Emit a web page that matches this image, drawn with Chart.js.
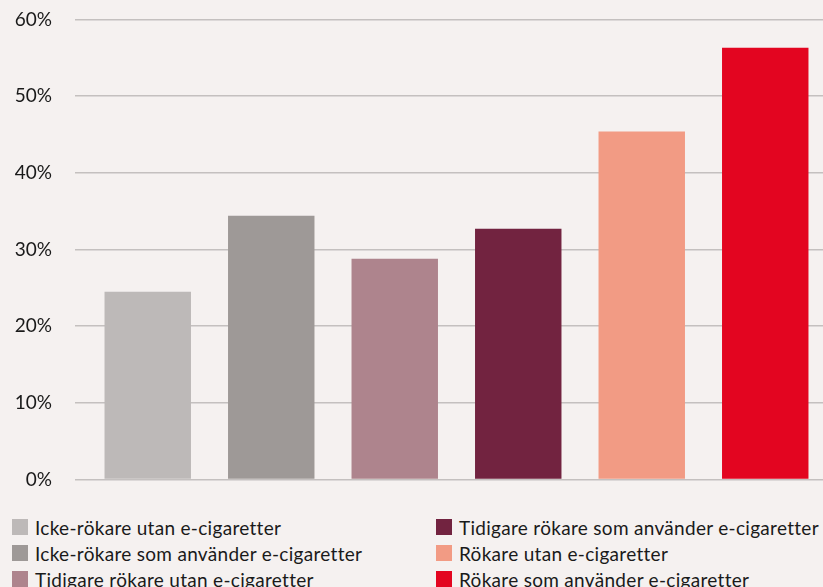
<!DOCTYPE html>
<html>
<head>
<meta charset="utf-8">
<script src="https://cdn.jsdelivr.net/npm/chart.js@4/dist/chart.umd.min.js"></script>
<style>
  html, body { margin: 0; padding: 0; background: #f5f1f0; overflow: hidden; }
  #wrap { position: absolute; left: 0; top: -15.5px; width: 827px; height: 529px; }
  #legend { position: absolute; left: 12px; top: 517px; width: 811px; font-family: "Lato", sans-serif; font-size: 19px; letter-spacing: 0.3px; color: #1a1a1a; }
  .item { position: absolute; white-space: nowrap; height: 20px; display: flex; align-items: center; }
  .box { display: inline-block; width: 16px; height: 16px; margin-right: 7px; flex: none; }
</style>
</head>
<body>
<div id="wrap"><canvas id="myChart" width="827" height="529"></canvas></div>
<div id="legend"></div>
<script>
// categories and values (percent)
var labels = [
    "Icke-rökare utan e-cigaretter",
    "Icke-rökare som använder e-cigaretter",
    "Tidigare rökare utan e-cigaretter",
    "Tidigare rökare som använder e-cigaretter",
    "Rökare utan e-cigaretter",
    "Rökare som använder e-cigaretter"
];
var values = [24.5, 34.4, 28.8, 32.7, 45.4, 56.3];
var colors = ["#bdb9b8", "#9e9997", "#ae848d", "#722340", "#f29b84", "#e30520"];
var yTicks = [0, 10, 20, 30, 40, 50, 60];

var ctx = document.getElementById('myChart').getContext('2d');
ctx.letterSpacing = '2px';
var chart = new Chart(ctx, {
    type: 'bar',
    data: {
        labels: labels,
        datasets: [{
            data: values,
            backgroundColor: colors,
            barPercentage: 0.7,
            categoryPercentage: 1.0
        }]
    },
    options: {
        responsive: false,
        animation: false,
        plugins: { legend: { display: false }, tooltip: { enabled: false } },
        scales: {
            x: {
                display: false
            },
            y: {
                min: 0,
                max: 60,
                afterFit: function (scale) { scale.width = 86; },
                afterBuildTicks: function (scale) {
                    scale.ticks = yTicks.map(function (v) { return { value: v }; });
                },
                border: { display: false },
                grid: { color: '#c4c0bf', lineWidth: 1.5, tickLength: 11, drawTicks: true },
                ticks: {
                    padding: 23,
                    color: '#1a1a1a',
                    font: { family: 'Lato', size: 19 },
                    callback: function (v) { return v + '%'; }
                }
            }
        }
    }
});

// legend in two columns, three rows
var legend = document.getElementById('legend');
for (var i = 0; i < labels.length; i++) {
    var col = Math.floor(i / 3), row = i % 3;
    var div = document.createElement('div');
    div.className = 'item';
    div.style.left = (col * 424) + 'px';
    div.style.top = (row * 26) + 'px';
    div.innerHTML = '<span class="box" style="background:' + colors[i] + '"></span>' + labels[i];
    legend.appendChild(div);
}
</script>
</body>
</html>
